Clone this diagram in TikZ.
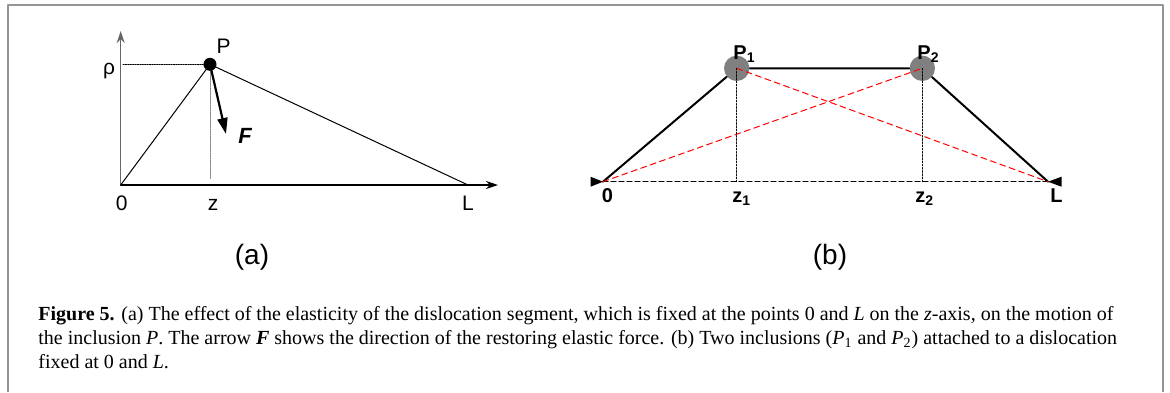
\documentclass[tikz,border=0pt]{standalone}
\usepackage{fontspec}
\setmainfont{Liberation Serif}
\setsansfont{Liberation Sans}
\usetikzlibrary{arrows.meta}
\definecolor{framegray}{HTML}{959595}
\definecolor{inclgray}{HTML}{808080}

\begin{document}
\begin{tikzpicture}[x=0.5pt,y=-0.5pt,line cap=round,line join=round,
    lbl/.style={font=\sffamily\fontsize{10.5}{12}\selectfont,inner sep=0pt},
    blbl/.style={font=\sffamily\bfseries\fontsize{10}{12}\selectfont,inner sep=0pt},
    panellbl/.style={font=\sffamily\fontsize{14}{16}\selectfont,inner sep=0pt,anchor=base},
    caption/.style={font=\fontsize{10}{12}\selectfont,inner sep=0pt,anchor=base west},
    guide/.style={line width=0.5pt,dash pattern=on 0.6pt off 0.6pt},
    incl/.style={circle,fill=inclgray,inner sep=0pt,minimum size=12.7pt}]
  \useasboundingbox (0,0) rectangle (1170,392);
  \draw[framegray,line width=1pt,line cap=butt] (8,392) -- (8,5) -- (1163,5) -- (1163,392);

  % (a)
  \coordinate (o) at (120.7,185);
  \coordinate (l) at (468,185);
  \coordinate (ytip) at (120.7,31);
  \coordinate (xtip) at (498,185);
  \coordinate (rho) at (123,64.3);
  \coordinate (zfoot) at (210,179);
  \coordinate (ftip) at (226,134);
  \node[circle,fill,inner sep=0pt,minimum size=6.5pt] (p) at (210,64.3) {};
  \draw[black!60,line width=0.7pt,-{Stealth[length=6pt,width=4pt]}] (o) -- (ytip);
  \draw[line width=0.6pt,-{Stealth[length=6pt,width=4pt]}] (o) -- (xtip);
  \draw[guide] (rho) -- (p.center);
  \draw[guide,black!50] (p.center) -- (zfoot);
  \draw[line width=0.5pt] (o) -- (p.center) -- (l);
  \draw[line width=1.1pt,-{Triangle[length=8pt,width=5pt]}] (p.center) -- (ftip);
  \node[lbl,anchor=base] at (223.5,53) {P};
  \node[lbl] at (109,71) {ρ};
  \node[font=\sffamily\bfseries\itshape\fontsize{11}{12}\selectfont,inner sep=0pt,anchor=base] at (245,143) {F};
  \node[lbl,anchor=base] at (121.7,210) {0};
  \node[lbl,anchor=base] at (213,210) {z};
  \node[lbl,anchor=base] at (468,210) {L};
  \node[panellbl] at (252,264) {(a)};

  % (b)
  \coordinate (o2) at (603,181.7);
  \coordinate (l2) at (1048,181.7);
  \node[incl] (p1) at (736.7,68.3) {};
  \node[incl] (p2) at (922.3,68.3) {};
  \draw[line width=0.6pt,dash pattern=on 2.5pt off 1.5pt] (o2) -- (l2);
  \draw[line width=1pt] (o2) -- (p1) -- (p2) -- (l2);
  \draw[red,line width=0.5pt,dash pattern=on 3pt off 2pt] (o2) -- (p2.center);
  \draw[red,line width=0.5pt,dash pattern=on 3pt off 2pt] (p1.center) -- (l2);
  \foreach \p in {p1,p2}
    \draw[line width=0.5pt,dash pattern=on 0.8pt off 0.8pt] (\p.center) -- (\p |- o2);
  \fill (o2) -- ++(-12.5,-5) -- ++(0,10) -- cycle;
  \fill (l2) -- ++(13.5,-5) -- ++(0,10) -- cycle;
  \node[blbl,anchor=base west] at (733,59) {P\textsubscript{1}};
  \node[blbl,anchor=base west] at (917,59) {P\textsubscript{2}};
  \node[blbl,anchor=base] at (607.5,202) {0};
  \node[blbl,anchor=base west] at (732,202) {z\textsubscript{1}};
  \node[blbl,anchor=base west] at (915,202) {z\textsubscript{2}};
  \node[blbl,anchor=base west] at (1050,202) {L};
  \node[panellbl] at (830,264) {(b)};

  % caption
  \node[caption] (cap1) at (38,320) {\textbf{Figure 5.} (a) The effect of the elasticity of the dislocation segment, which is fixed at the points 0 and \textit{L} on the \textit{z}-axis, on the motion of};
  \node[caption] (cap2) at (38,344) {the inclusion \textit{P}. The arrow \textbf{\textit{F}} shows the direction of the restoring elastic force. (b) Two inclusions (\textit{P}\textsubscript{1} and \textit{P}\textsubscript{2}) attached to a dislocation};
  \node[caption] (cap3) at (38,368) {fixed at 0 and \textit{L}.};
\end{tikzpicture}
\end{document}
